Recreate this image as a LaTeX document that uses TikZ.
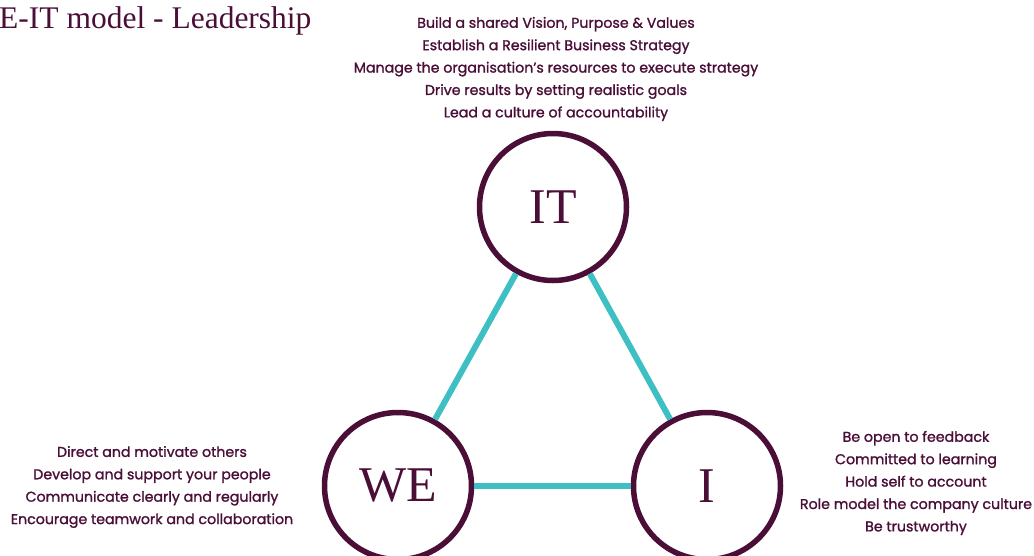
\documentclass[tikz,border=0pt]{standalone}
\usepackage{fontspec}
\setmainfont{Liberation Serif}
\newfontfamily\listfont[FakeBold=1.3]{Poppins}
\definecolor{plum}{HTML}{4A0E37}
\definecolor{teal}{HTML}{3EBFC4}

\begin{document}
\begin{tikzpicture}[x=1pt,y=1pt,
  ring/.style={circle,draw=plum,line width=5.5pt,fill=white,
               minimum size=147pt,inner sep=0pt,text=plum,
               font=\fontsize{50}{50}\selectfont},
  link/.style={teal,line width=6pt},
  points/.style={align=center,text=plum,
               font=\listfont\fontsize{14.2}{22.4}\selectfont}]
 \useasboundingbox (0,0) rectangle (1034,-555);
 % the three circles of the model
 \node[ring] (it) at (553,-207) {IT};
 \node[ring] (we) at (398,-486) {WE};
 \node[ring] (i)  at (707,-486) {I};
 \draw[link] (it) -- (we);
 \draw[link] (it) -- (i);
 \draw[link] (we) -- (i);
 % title
 \node[anchor=west,text=plum,font=\fontsize{31.5}{31.5}\selectfont,inner sep=0pt]
   (title) at (-1,-21) {E-IT model - Leadership};
 % behaviours for each circle
 \node[points] (itlist) at (556,-69) {Build a shared Vision, Purpose \& Values\\
   Establish a Resilient Business Strategy\\
   Manage the organisation’s resources to execute strategy\\
   Drive results by setting realistic goals\\
   Lead a culture of accountability};
 \node[points] (welist) at (152,-487) {Direct and motivate others\\
   Develop and support your people\\
   Communicate clearly and regularly\\
   Encourage teamwork and collaboration};
 \node[points] (ilist) at (916,-483) {Be open to feedback\\
   Committed to learning\\
   Hold self to account\\
   Role model the company culture\\
   Be trustworthy};
\end{tikzpicture}
\end{document}
